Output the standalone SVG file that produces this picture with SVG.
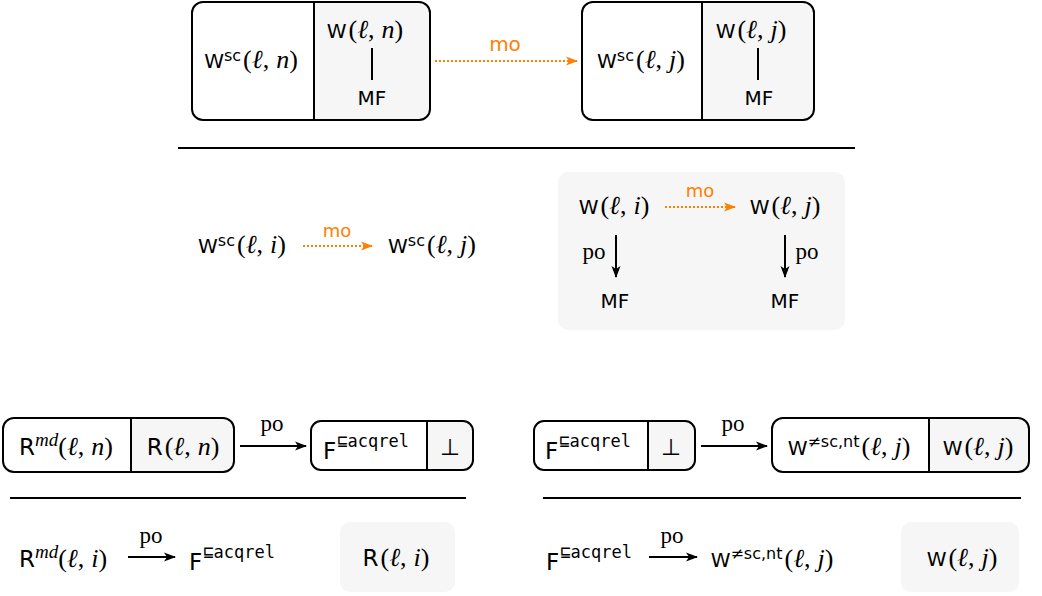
<svg xmlns="http://www.w3.org/2000/svg" width="1042" height="596" viewBox="0 0 1042 596">
<style>
.box{fill:none;stroke:#000;stroke-width:2}
.gray{fill:#f6f6f6;stroke:none}
.div{stroke:#000;stroke-width:2}
.rule{stroke:#000;stroke-width:2}
.t{font-family:"DejaVu Sans",sans-serif;fill:#000}
.s1{font-size:20px}
.s2{font-size:20px}
.s3{font-size:23px}
.m{font-family:"Liberation Serif","DejaVu Serif",serif;font-size:26px}
.i{font-style:italic}
.sup{font-size:16px}
.md{font-family:"Liberation Serif","DejaVu Serif",serif;font-style:italic;font-size:19px}
.mono{font-family:"DejaVu Sans Mono",monospace;font-size:17px}
.mo{font-family:"DejaVu Sans",sans-serif;fill:#ff8000}
.po{font-family:"Liberation Serif","DejaVu Serif",serif;font-size:23px;fill:#000}
.dot{stroke:#ff8000;stroke-width:2;stroke-dasharray:2 2;fill:none}
.arr{stroke:#000;stroke-width:2;fill:none}
</style>
<defs>
<marker id="oa" markerWidth="12" markerHeight="10" refX="11" refY="5" orient="auto" markerUnits="userSpaceOnUse"><path d="M0,0.5 L12,5 L0,9.5 L3,5 Z" fill="#ff8000"/></marker>
<marker id="ba" markerWidth="12" markerHeight="10" refX="11" refY="5" orient="auto" markerUnits="userSpaceOnUse"><path d="M0,0.5 L12,5 L0,9.5 L3,5 Z" fill="#000"/></marker>
</defs>

<g id="top-left">
<path class="gray" d="M314,3 H419 Q429,3 429,13 V109 Q429,119 419,119 H314 Z"/>
<rect class="box" x="192" y="2" width="238" height="118" rx="11"/>
<line class="div" x1="314" y1="2" x2="314" y2="120"/>
<text class="t s1" x="251" y="68" text-anchor="middle">W<tspan class="sup" dy="-7">sc</tspan><tspan class="m" dy="7" dx="2">(<tspan class="i">ℓ</tspan>,<tspan class="i" dx="7">n</tspan>)</tspan></text>
<text class="t s1" x="365" y="38" text-anchor="middle">W<tspan class="m" dx="2">(<tspan class="i">ℓ</tspan>,<tspan class="i" dx="7">n</tspan>)</tspan></text>
<line class="div" x1="372" y1="48" x2="372" y2="80"/>
<text class="t s1" x="372" y="105" text-anchor="middle">MF</text>
</g>

<g id="top-right">
<path class="gray" d="M702,3 H803 Q813,3 813,13 V109 Q813,119 803,119 H702 Z"/>
<rect class="box" x="582" y="2" width="232" height="118" rx="11"/>
<line class="div" x1="702" y1="2" x2="702" y2="120"/>
<text class="t s1" x="641" y="68" text-anchor="middle">W<tspan class="sup" dy="-7">sc</tspan><tspan class="m" dy="7" dx="2">(<tspan class="i">ℓ</tspan>,<tspan class="i" dx="7">j</tspan>)</tspan></text>
<text class="t s1" x="751" y="38" text-anchor="middle">W<tspan class="m" dx="2">(<tspan class="i">ℓ</tspan>,<tspan class="i" dx="7">j</tspan>)</tspan></text>
<line class="div" x1="758" y1="48" x2="758" y2="80"/>
<text class="t s1" x="759" y="105" text-anchor="middle">MF</text>
</g>

<g id="rules">
<line class="rule" x1="178" y1="148" x2="855" y2="148"/>
<line class="rule" x1="10" y1="498" x2="466" y2="498"/>
<line class="rule" x1="543" y1="498" x2="1021" y2="498"/>
</g>

<g id="mid-left">
<text class="t s2" x="242" y="253" text-anchor="middle">W<tspan class="sup" dy="-7">sc</tspan><tspan class="m" dy="7" dx="2">(<tspan class="i">ℓ</tspan>,<tspan class="i" dx="7">i</tspan>)</tspan></text>
<text class="t s2" x="432" y="253" text-anchor="middle">W<tspan class="sup" dy="-7">sc</tspan><tspan class="m" dy="7" dx="2">(<tspan class="i">ℓ</tspan>,<tspan class="i" dx="7">j</tspan>)</tspan></text>
</g>

<g id="mid-right">
<rect class="gray" x="558" y="172" width="287" height="158" rx="10"/>
<text class="t s2" x="614" y="214" text-anchor="middle">W<tspan class="m" dx="2">(<tspan class="i">ℓ</tspan>,<tspan class="i" dx="7">i</tspan>)</tspan></text>
<text class="t s2" x="785" y="214" text-anchor="middle">W<tspan class="m" dx="2">(<tspan class="i">ℓ</tspan>,<tspan class="i" dx="7">j</tspan>)</tspan></text>
<text class="t s2" x="615" y="308" text-anchor="middle">MF</text>
<text class="t s2" x="785" y="308" text-anchor="middle">MF</text>
</g>

<g id="bot-left-R">
<path class="gray" d="M131,419 H223 Q233,419 233,429 V461 Q233,471 223,471 H131 Z"/>
<rect class="box" x="3" y="418" width="231" height="54" rx="11"/>
<line class="div" x1="131" y1="418" x2="131" y2="472"/>
<text class="t s3" x="66" y="455" text-anchor="middle">R<tspan class="md" dy="-9">md</tspan><tspan class="m" dy="9">(<tspan class="i">ℓ</tspan>,<tspan class="i" dx="7">n</tspan>)</tspan></text>
<text class="t s3" x="183" y="455" text-anchor="middle">R<tspan class="m" dx="2">(<tspan class="i">ℓ</tspan>,<tspan class="i" dx="7">n</tspan>)</tspan></text>
</g>

<g id="bot-left-F">
<path class="gray" d="M427,422 H462 Q472,422 472,432 V459 Q472,469 462,469 H427 Z"/>
<rect class="box" x="311" y="421" width="162" height="49" rx="10"/>
<line class="div" x1="427" y1="421" x2="427" y2="470"/>
<text class="t s3" x="366" y="459" text-anchor="middle">F<tspan class="mono" dy="-12" dx="1">⊑acqrel</tspan></text>
<text class="t s3" x="450" y="455" text-anchor="middle">⊥</text>
</g>

<g id="bot-right-F">
<path class="gray" d="M648,422 H684 Q694,422 694,432 V459 Q694,469 684,469 H648 Z"/>
<rect class="box" x="534" y="421" width="161" height="49" rx="10"/>
<line class="div" x1="648" y1="421" x2="648" y2="470"/>
<text class="t s3" x="588" y="459" text-anchor="middle">F<tspan class="mono" dy="-12" dx="1">⊑acqrel</tspan></text>
<text class="t s3" x="671" y="455" text-anchor="middle">⊥</text>
</g>

<g id="bot-right-W">
<path class="gray" d="M929,419 H1018 Q1028,419 1028,429 V461 Q1028,471 1018,471 H929 Z"/>
<rect class="box" x="772" y="418" width="257" height="54" rx="11"/>
<line class="div" x1="929" y1="418" x2="929" y2="472"/>
<text class="t s2" x="849" y="455" text-anchor="middle">W<tspan class="sup" dy="-8">≠sc,nt</tspan><tspan class="m" dy="8" dx="2">(<tspan class="i">ℓ</tspan>,<tspan class="i" dx="7">j</tspan>)</tspan></text>
<text class="t s2" x="978" y="455" text-anchor="middle">W<tspan class="m" dx="2">(<tspan class="i">ℓ</tspan>,<tspan class="i" dx="7">j</tspan>)</tspan></text>
</g>

<g id="last-left">
<text class="t s3" x="63" y="567" text-anchor="middle">R<tspan class="md" dy="-9">md</tspan><tspan class="m" dy="9">(<tspan class="i">ℓ</tspan>,<tspan class="i" dx="7">i</tspan>)</tspan></text>
<text class="t s3" x="232" y="570" text-anchor="middle">F<tspan class="mono" dy="-12" dx="1">⊑acqrel</tspan></text>
<rect class="gray" x="340" y="522" width="115" height="70" rx="10"/>
<text class="t s3" x="396" y="566" text-anchor="middle">R<tspan class="m" dx="2">(<tspan class="i">ℓ</tspan>,<tspan class="i" dx="7">i</tspan>)</tspan></text>
</g>

<g id="last-right">
<text class="t s3" x="589" y="570" text-anchor="middle">F<tspan class="mono" dy="-12" dx="1">⊑acqrel</tspan></text>
<text class="t s2" x="772" y="567" text-anchor="middle">W<tspan class="sup" dy="-8">≠sc,nt</tspan><tspan class="m" dy="8" dx="2">(<tspan class="i">ℓ</tspan>,<tspan class="i" dx="7">j</tspan>)</tspan></text>
<rect class="gray" x="901" y="522" width="118" height="70" rx="10"/>
<text class="t s2" x="962" y="566" text-anchor="middle">W<tspan class="m" dx="2">(<tspan class="i">ℓ</tspan>,<tspan class="i" dx="7">j</tspan>)</tspan></text>
</g>

<g id="connectors">
<line class="dot" x1="435" y1="61" x2="577" y2="61" marker-end="url(#oa)"/>
<text class="mo" x="505" y="51" text-anchor="middle" style="font-size:20px">mo</text>
<line class="dot" x1="303" y1="246" x2="372" y2="246" marker-end="url(#oa)"/>
<text class="mo" x="337" y="237" text-anchor="middle" style="font-size:18px">mo</text>
<line class="dot" x1="665" y1="207" x2="735" y2="207" marker-end="url(#oa)"/>
<text class="mo" x="700" y="197" text-anchor="middle" style="font-size:18px">mo</text>
<line class="arr" x1="616" y1="235" x2="616" y2="277" marker-end="url(#ba)"/>
<text class="po" x="594" y="259" text-anchor="middle">po</text>
<line class="arr" x1="785" y1="235" x2="785" y2="277" marker-end="url(#ba)"/>
<text class="po" x="807" y="259" text-anchor="middle">po</text>
<line class="arr" x1="240" y1="446" x2="306" y2="446" marker-end="url(#ba)"/>
<text class="po" x="272" y="431" text-anchor="middle">po</text>
<line class="arr" x1="701" y1="446" x2="767" y2="446" marker-end="url(#ba)"/>
<text class="po" x="733" y="431" text-anchor="middle">po</text>
<line class="arr" x1="128" y1="557" x2="175" y2="557" marker-end="url(#ba)"/>
<text class="po" x="151" y="543" text-anchor="middle">po</text>
<line class="arr" x1="649" y1="557" x2="697" y2="557" marker-end="url(#ba)"/>
<text class="po" x="672" y="543" text-anchor="middle">po</text>
</g>
</svg>
